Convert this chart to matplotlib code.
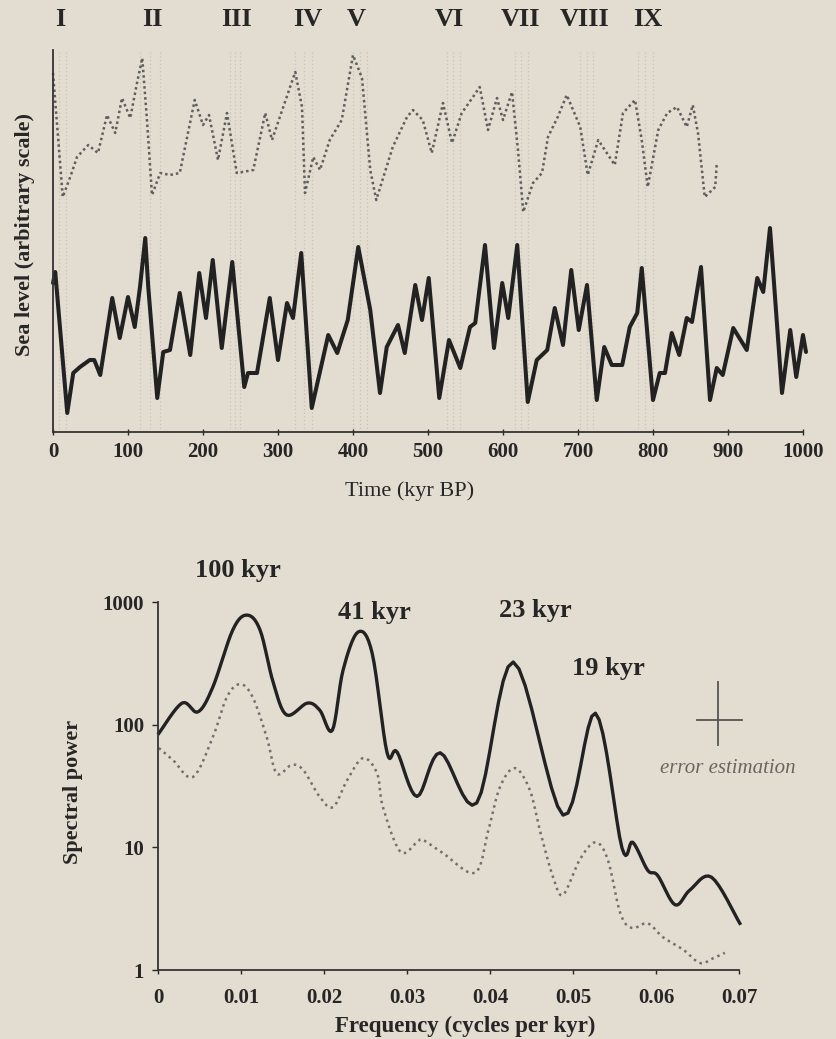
import numpy as np
import matplotlib.pyplot as plt

plt.rcParams['font.family'] = ['Liberation Serif', 'DejaVu Serif']

bg = '#e3dcd0'
ink = '#262626'

# sea level model (solid) and isotope record (dotted), time in kyr BP
model_t = [0, 3, 19, 27, 36, 49, 55, 63, 79, 89, 100, 109, 116, 123, 127, 139, 147, 156,
           169, 183, 195, 204, 213, 225, 239, 255, 260, 272, 289, 300, 312, 320, 331, 345,
           367, 379, 393, 407, 423, 436, 445, 460, 469, 483, 492, 501, 515, 528, 543, 556,
           563, 576, 588, 599, 607, 619, 633, 645, 659, 669, 680, 691, 701, 712, 725, 735,
           745, 759, 769, 779, 785, 800, 809, 816, 825, 835, 845, 852, 864, 876, 885, 893,
           907, 925, 939, 947, 956, 972, 983, 991, 1000, 1004]
model_lev = [149, 160, 19, 59, 65, 72, 72, 57, 134, 94, 135, 105, 145, 194, 145, 34, 80, 82,
             139, 77, 159, 114, 172, 84, 170, 45, 59, 59, 134, 72, 129, 114, 179, 24,
             97, 79, 112, 185, 122, 39, 85, 107, 79, 147, 112, 154, 34, 92, 64, 105,
             109, 187, 84, 149, 114, 187, 30, 72, 82, 124, 87, 162, 102, 147, 32, 85,
             67, 67, 105, 119, 164, 32, 59, 59, 99, 77, 114, 110, 165, 32, 64, 57,
             104, 82, 154, 140, 204, 39, 102, 55, 97, 80]

record_t = [0, 13, 23, 32, 47, 60, 72, 83, 92, 103, 112, 119, 125, 132, 143, 156, 169,
            189, 200, 208, 220, 232, 240, 245, 267, 283, 292, 307, 323, 332, 336, 347,
            356, 369, 385, 400, 412, 423, 431, 453, 472, 480, 493, 505, 520, 532, 545,
            559, 569, 580, 592, 600, 612, 620, 627, 640, 652, 660, 673, 685, 703, 713,
            727, 749, 760, 776, 785, 793, 807, 819, 832, 845, 853, 860, 869, 883, 885]
record_lev = [359, 235, 255, 275, 287, 279, 317, 299, 334, 314, 349, 374, 315, 237, 259, 257, 259,
              332, 307, 317, 272, 319, 282, 259, 262, 319, 292, 325, 360, 325, 239, 275,
              262, 292, 312, 377, 354, 262, 232, 285, 315, 322, 312, 279, 329, 289, 319,
              334, 345, 302, 334, 312, 340, 282, 220, 249, 259, 295, 315, 337, 305, 257,
              292, 267, 319, 332, 292, 245, 302, 319, 325, 305, 327, 299, 235, 245, 269]

# glacial terminations
term_names = ['I', 'II', 'III', 'IV', 'V', 'VI', 'VII', 'VIII', 'IX']
term_label_t = [9, 132, 245, 340, 405, 529, 623, 709, 793]
term_start = [0, 116, 236, 323, 400, 525, 616, 703, 780]
term_end = [17, 143, 249, 345, 419, 543, 633, 720, 800]

# power spectra
freq_model = [0.0001, 0.0029, 0.0048, 0.0066, 0.009, 0.0107, 0.0123, 0.0139, 0.0155, 0.018,
              0.0195, 0.021, 0.0223, 0.0241, 0.0258, 0.0276, 0.0288, 0.0312, 0.034, 0.0384,
              0.0428, 0.0488, 0.0527, 0.0559, 0.0572, 0.059, 0.0602, 0.0623, 0.0641, 0.0667,
              0.0701]
power_model = [85, 150, 127, 202, 590, 782, 590, 218, 120, 150,
               131, 90, 279, 569, 383, 59, 60, 26, 59, 23,
               324, 18.3, 124, 9.9, 11, 6.5, 5.9, 3.4, 4.5, 5.7,
               2.4]
freq_record = [0.0001, 0.0018, 0.0042, 0.0066, 0.0083, 0.0099, 0.0114, 0.0131, 0.0143, 0.0161,
               0.0175, 0.0195, 0.0211, 0.0228, 0.0247, 0.0264, 0.0271, 0.0292, 0.0312, 0.0319,
               0.0343, 0.0382, 0.0398, 0.0412, 0.043, 0.0448, 0.046, 0.0476, 0.0488, 0.0508,
               0.0527, 0.0542, 0.0557, 0.0571, 0.059, 0.0608, 0.0633, 0.0653, 0.0669, 0.0683]
power_record = [64.5, 51.5, 37.4, 79, 168, 214, 168, 79, 40, 47,
                42.7, 25.7, 21.3, 35.4, 53.4, 40, 21.3, 9.2, 11, 11.5,
                9, 6.2, 13.8, 31, 44.3, 29.3, 13.8, 5.7, 4.1, 7.9,
                11, 7.9, 2.9, 2.2, 2.4, 1.86, 1.46, 1.14, 1.25, 1.38]

peak_labels = ['100 kyr', '41 kyr', '23 kyr', '19 kyr']
peak_label_f = [0.0096, 0.0261, 0.0455, 0.0543]
peak_label_p = [1820, 828, 859, 289]


def smooth(x, y, n=8, logy=False):
    # Catmull-Rom pass through the read-off points
    x = np.asarray(x, float)
    y = np.asarray(y, float)
    if logy:
        y = np.log10(y)
    xs, ys = [x[0]], [y[0]]
    for i in range(len(x) - 1):
        p0 = y[i - 1] if i > 0 else y[i]
        p3 = y[i + 2] if i + 2 < len(y) else y[i + 1]
        q0 = x[i - 1] if i > 0 else x[i]
        q3 = x[i + 2] if i + 2 < len(x) else x[i + 1]
        for s in np.linspace(0, 1, n + 1)[1:]:
            def cr(a, b, c, d):
                return 0.5 * (2 * b + (-a + c) * s + (2 * a - 5 * b + 4 * c - d) * s ** 2
                              + (-a + 3 * b - 3 * c + d) * s ** 3)
            xs.append(cr(q0, x[i], x[i + 1], q3))
            ys.append(cr(p0, y[i], y[i + 1], p3))
    ys = np.array(ys)
    if logy:
        ys = 10 ** ys
    return np.array(xs), ys


fig = plt.figure(figsize=(8.37, 10.39), dpi=100, facecolor=bg)

# ---- sea level curves ----
ax1 = fig.add_axes([53 / 837, 1 - 432 / 1039, 750 / 837, 382 / 1039], facecolor=bg)
for a, b in zip(term_start, term_end):
    for xv in (a, (a + b) / 2, b):
        ax1.axvline(xv, color='#c9c1b3', lw=0.9, ls=(0, (1, 2)), zorder=0)
ax1.plot(record_t, record_lev, color='#5e5e5e', lw=1.8, ls=(0, (1, 1.2)), clip_on=False)
ax1.plot(model_t, model_lev, color='#222222', lw=2.9, solid_joinstyle='round',
         solid_capstyle='round', clip_on=False)
for name, t in zip(term_names, term_label_t):
    ax1.text(t, 1.08, name, transform=ax1.get_xaxis_transform(), ha='center', va='center',
             fontsize=19, fontweight='bold', color=ink)
ax1.set_xlim(0, 1000)
ax1.set_ylim(0, 382)
ax1.set_xticks(np.arange(0, 1001, 100))
ax1.set_yticks([])
ax1.spines[['top', 'right']].set_visible(False)
ax1.spines[['left', 'bottom']].set_color('#333333')
ax1.spines[['left', 'bottom']].set_linewidth(1.3)
ax1.tick_params(axis='x', direction='inout', length=4, width=1, pad=5, labelsize=15,
                colors=ink)
for lab in ax1.get_xticklabels():
    lab.set_fontweight('bold')
ax1.set_xlabel('Time (kyr BP)', fontsize=16, color=ink)
ax1.xaxis.set_label_coords(0.476, -0.13)
ax1.set_ylabel('Sea level (arbitrary scale)', fontsize=16, fontweight='bold', color=ink)
ax1.yaxis.set_label_coords(-0.024, 0.516)

# ---- power spectra ----
ax2 = fig.add_axes([158 / 837, 1 - 970 / 1039, 581 / 837, 368 / 1039], facecolor=bg)
fm, pm = smooth(freq_model, power_model, logy=True)
fr, pr = smooth(freq_record, power_record, logy=True)
ax2.plot(fr, pr, color='#707070', lw=1.8, ls=(0, (1, 1.6)), clip_on=False)
ax2.plot(fm, pm, color='#222222', lw=2.4, clip_on=False)
ax2.set_yscale('log')
ax2.set_xlim(0, 0.07)
ax2.set_ylim(1, 1000)
ax2.set_xticks(np.arange(0, 0.071, 0.01))
ax2.set_xticklabels(['0', '0.01', '0.02', '0.03', '0.04', '0.05', '0.06', '0.07'])
ax2.set_yticks([1, 10, 100, 1000])
ax2.set_yticklabels(['1', '10', '100', '1000'])
ax2.yaxis.set_minor_locator(plt.NullLocator())
ax2.spines[['top', 'right']].set_visible(False)
ax2.spines[['left', 'bottom']].set_color('#333333')
ax2.spines[['left', 'bottom']].set_linewidth(1.3)
ax2.tick_params(axis='x', direction='out', length=3, width=1, pad=10, labelsize=15, colors=ink)
ax2.tick_params(axis='y', direction='out', length=4, width=1, pad=6, labelsize=15, colors=ink)
for lab in ax2.get_xticklabels() + ax2.get_yticklabels():
    lab.set_fontweight('bold')
ax2.set_xlabel('Frequency (cycles per kyr)', fontsize=16.5, fontweight='bold', color=ink)
ax2.xaxis.set_label_coords(0.528, -0.125)
ax2.set_ylabel('Spectral power', fontsize=16, fontweight='bold', color=ink)
ax2.yaxis.set_label_coords(-0.129, 0.484)

for lab, f, p in zip(peak_labels, peak_label_f, peak_label_p):
    ax2.text(f, p, lab, ha='center', va='center', fontsize=19, fontweight='bold',
             color=ink, clip_on=False)

# error bar cross
ax2.plot([0.0675, 0.0675], [68, 222], color='#555555', lw=1.3, clip_on=False)
ax2.plot([0.0649, 0.0704], [109, 109], color='#555555', lw=1.3, clip_on=False)
ax2.text(0.0686, 44.3, 'error estimation', ha='center', va='center', fontsize=15,
         fontstyle='italic', color='#6a6560', clip_on=False)

fig.savefig('out.png', dpi=100, facecolor=bg)
